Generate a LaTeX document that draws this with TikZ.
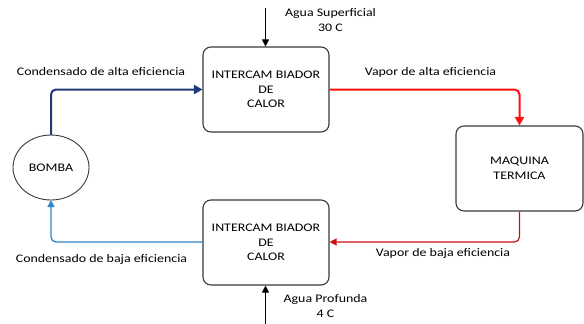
\documentclass[tikz,border=0pt]{standalone}
\usepackage{fontspec}
\setmainfont{Carlito}[FakeStretch=1.2]
\usetikzlibrary{arrows.meta}
\definecolor{navyline}{HTML}{1F3A7A}
\definecolor{redline}{HTML}{FF1010}
\definecolor{darkred}{HTML}{CC1010}
\definecolor{lightblue}{HTML}{2F86CC}
\definecolor{boxgray}{HTML}{3A3A3A}
\begin{document}
\begin{tikzpicture}[x=1pt,y=-1pt,
  every node/.style={font=\fontsize{11.6}{14.5}\selectfont, text=black},
  procbox/.style={draw=boxgray, line width=1.1pt, rounded corners=8pt, fill=white, align=center, inner sep=0pt},
  flow/.style={rounded corners=5pt},
  bigtip/.style={-{Triangle[length=8.5pt,width=9pt]}},
  smalltip/.style={-{Triangle[length=7pt,width=7pt]}},
  lbl/.style={inner sep=0pt, anchor=center}]
\useasboundingbox (0,0) rectangle (584,324);
\fill[white] (0,0) rectangle (584,324);
% boxes
\node[procbox, minimum width=126pt, minimum height=85pt] (hx1) at (266,89.5) {INTERCAM BIADOR\\DE\\CALOR};
\node[procbox, minimum width=126pt, minimum height=85pt] (hx2) at (266,242.5) {INTERCAM BIADOR\\DE\\CALOR};
\node[procbox, minimum width=127pt, minimum height=85pt] (mt) at (519.5,168.5) {MAQUINA\\TERMICA};
\draw[boxgray, line width=0.9pt, fill=white] (51,167.5) ellipse [x radius=38, y radius=32.5];
\node[inner sep=0pt] (bomba) at (51,167.5) {BOMBA};
\coordinate (bombatop) at (51,135);
\coordinate (bombabot) at (51,200);
% water arrows
\coordinate (supin) at (265.5,8);
\coordinate (profin) at (265.5,324);
\draw[black, line width=1pt, smalltip] (supin) -- (hx1.north -| supin);
\draw[black, line width=1pt, smalltip] (profin) -- (hx2.south -| profin);
% flows
\draw[flow, bigtip, navyline, line width=2pt] (bombatop) |- (hx1.west);
\draw[flow, bigtip, redline, line width=2pt] (hx1.east) -| (mt.north);
\draw[flow, smalltip, darkred, line width=1.2pt] (mt.south) |- (hx2.east |- 0,242);
\draw[flow, smalltip, lightblue, line width=1.3pt] (hx2.west |- 0,242) -| (bombabot);
% labels
\node[lbl] (l1) at (101,72) {Condensado de alta eficiencia};
\node[lbl] (l2) at (430.5,72) {Vapor de alta eficiencia};
\node[lbl] (l3) at (443,253) {Vapor de baja eficiencia};
\node[lbl] (l4) at (101.5,259) {Condensado de baja eficiencia};
\node[lbl, align=center] (l5) at (330.5,20) {Agua Superficial\\30 C};
\node[lbl, align=center] (l6) at (325.5,306) {Agua Profunda\\4 C};
\end{tikzpicture}
\end{document}
